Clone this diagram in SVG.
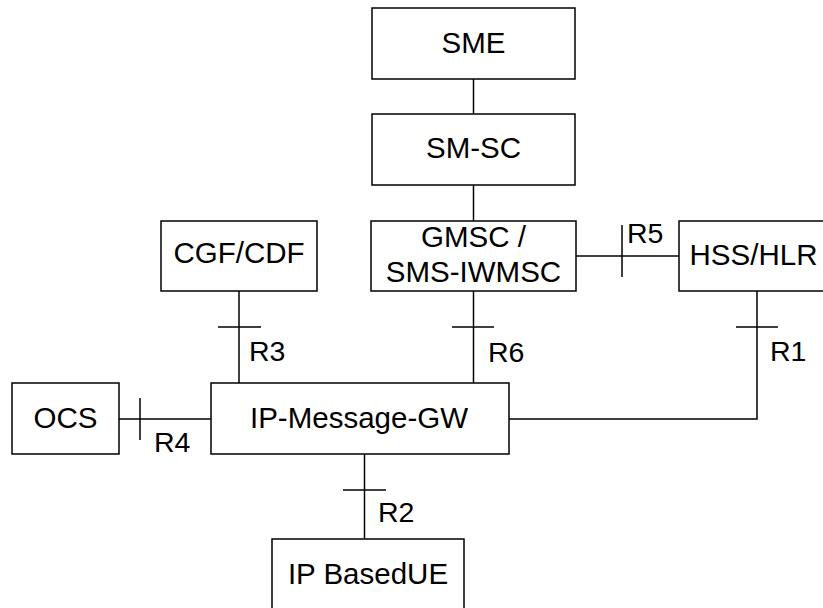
<svg xmlns="http://www.w3.org/2000/svg" width="823" height="608" viewBox="0 0 823 608">
<style>
.box{fill:#fff;stroke:#000;stroke-width:1.5}
.ln{fill:none;stroke:#000;stroke-width:1.5}
.t{font-family:"Liberation Sans",Arial,sans-serif;font-size:29.5px;fill:#000;text-anchor:middle}
.r{font-family:"Liberation Sans",Arial,sans-serif;font-size:28.5px;fill:#000}
</style>
<rect width="823" height="608" fill="#fff"/>
<g id="connectors">
<path class="ln" d="M473.5 79V114"/>
<path class="ln" d="M473.5 185V221"/>
<path class="ln" d="M239 291V383"/>
<path class="ln" d="M218 327H261"/>
<path class="ln" d="M473.5 291V383"/>
<path class="ln" d="M452 327H494"/>
<path class="ln" d="M576 256H679"/>
<path class="ln" d="M622 225V277"/>
<path class="ln" d="M757 291V419H509"/>
<path class="ln" d="M736 327H778"/>
<path class="ln" d="M119 419H211"/>
<path class="ln" d="M140 398V440"/>
<path class="ln" d="M364.5 454V539"/>
<path class="ln" d="M343 490H386"/>
<text class="r" x="249" y="361">R3</text>
<text class="r" x="488" y="362">R6</text>
<text class="r" x="627" y="243">R5</text>
<text class="r" x="770" y="361">R1</text>
<text class="r" x="154" y="452">R4</text>
<text class="r" x="378" y="522">R2</text>
</g>
<g id="sme"><rect class="box" x="372" y="8" width="203" height="71"/><text class="t" x="473.5" y="53">SME</text></g>
<g id="smsc"><rect class="box" x="372" y="114" width="203" height="71"/><text class="t" x="473.5" y="158">SM-SC</text></g>
<g id="cgf"><rect class="box" x="161" y="221" width="156" height="70"/><text class="t" x="239" y="263">CGF/CDF</text></g>
<g id="gmsc"><rect class="box" x="371" y="221" width="205" height="70"/><text class="t" x="473.5" y="247">GMSC /</text><text class="t" x="473.5" y="282">SMS-IWMSC</text></g>
<g id="hss"><rect class="box" x="679" y="221" width="150" height="70"/><text class="t" x="753.5" y="265">HSS/HLR</text></g>
<g id="ocs"><rect class="box" x="12" y="383" width="107" height="71"/><text class="t" x="65.5" y="428">OCS</text></g>
<g id="ipgw"><rect class="box" x="211" y="383" width="298" height="71"/><text class="t" x="359" y="428">IP-Message-GW</text></g>
<g id="ue"><rect class="box" x="272" y="539" width="192" height="75"/><text class="t" x="368" y="584">IP BasedUE</text></g>
</svg>
